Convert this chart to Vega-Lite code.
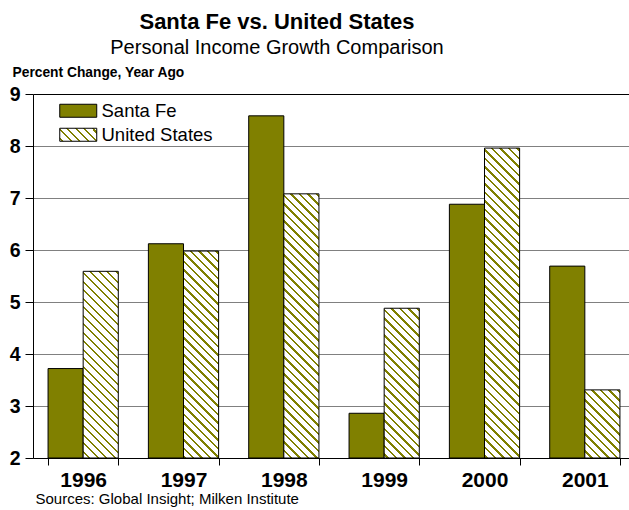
{
  "$schema": "https://vega.github.io/schema/vega-lite/v6.json",
  "width": 596,
  "height": 364,
  "autosize": {"type": "none"},
  "padding": {"left": 33, "top": 94, "right": 0, "bottom": 52},
  "background": "white",
  "params": [
    {"name": "hatch", "value": [
      {"offset": 0, "color": "#ffffff"},
      {"offset": 0.0081, "color": "#ffffff"}, {"offset": 0.0081, "color": "#808000"}, {"offset": 0.0142, "color": "#808000"}, {"offset": 0.0142, "color": "#ffffff"},
      {"offset": 0.0317, "color": "#ffffff"}, {"offset": 0.0317, "color": "#808000"}, {"offset": 0.0378, "color": "#808000"}, {"offset": 0.0378, "color": "#ffffff"},
      {"offset": 0.0553, "color": "#ffffff"}, {"offset": 0.0553, "color": "#808000"}, {"offset": 0.0614, "color": "#808000"}, {"offset": 0.0614, "color": "#ffffff"},
      {"offset": 0.0789, "color": "#ffffff"}, {"offset": 0.0789, "color": "#808000"}, {"offset": 0.0850, "color": "#808000"}, {"offset": 0.0850, "color": "#ffffff"},
      {"offset": 0.1025, "color": "#ffffff"}, {"offset": 0.1025, "color": "#808000"}, {"offset": 0.1086, "color": "#808000"}, {"offset": 0.1086, "color": "#ffffff"},
      {"offset": 0.1261, "color": "#ffffff"}, {"offset": 0.1261, "color": "#808000"}, {"offset": 0.1322, "color": "#808000"}, {"offset": 0.1322, "color": "#ffffff"},
      {"offset": 0.1497, "color": "#ffffff"}, {"offset": 0.1497, "color": "#808000"}, {"offset": 0.1558, "color": "#808000"}, {"offset": 0.1558, "color": "#ffffff"},
      {"offset": 0.1733, "color": "#ffffff"}, {"offset": 0.1733, "color": "#808000"}, {"offset": 0.1794, "color": "#808000"}, {"offset": 0.1794, "color": "#ffffff"},
      {"offset": 0.1969, "color": "#ffffff"}, {"offset": 0.1969, "color": "#808000"}, {"offset": 0.2030, "color": "#808000"}, {"offset": 0.2030, "color": "#ffffff"},
      {"offset": 0.2205, "color": "#ffffff"}, {"offset": 0.2205, "color": "#808000"}, {"offset": 0.2266, "color": "#808000"}, {"offset": 0.2266, "color": "#ffffff"},
      {"offset": 0.2442, "color": "#ffffff"}, {"offset": 0.2442, "color": "#808000"}, {"offset": 0.2503, "color": "#808000"}, {"offset": 0.2503, "color": "#ffffff"},
      {"offset": 0.2678, "color": "#ffffff"}, {"offset": 0.2678, "color": "#808000"}, {"offset": 0.2739, "color": "#808000"}, {"offset": 0.2739, "color": "#ffffff"},
      {"offset": 0.2914, "color": "#ffffff"}, {"offset": 0.2914, "color": "#808000"}, {"offset": 0.2975, "color": "#808000"}, {"offset": 0.2975, "color": "#ffffff"},
      {"offset": 0.3150, "color": "#ffffff"}, {"offset": 0.3150, "color": "#808000"}, {"offset": 0.3211, "color": "#808000"}, {"offset": 0.3211, "color": "#ffffff"},
      {"offset": 0.3386, "color": "#ffffff"}, {"offset": 0.3386, "color": "#808000"}, {"offset": 0.3447, "color": "#808000"}, {"offset": 0.3447, "color": "#ffffff"},
      {"offset": 0.3622, "color": "#ffffff"}, {"offset": 0.3622, "color": "#808000"}, {"offset": 0.3683, "color": "#808000"}, {"offset": 0.3683, "color": "#ffffff"},
      {"offset": 0.3858, "color": "#ffffff"}, {"offset": 0.3858, "color": "#808000"}, {"offset": 0.3919, "color": "#808000"}, {"offset": 0.3919, "color": "#ffffff"},
      {"offset": 0.4094, "color": "#ffffff"}, {"offset": 0.4094, "color": "#808000"}, {"offset": 0.4156, "color": "#808000"}, {"offset": 0.4156, "color": "#ffffff"},
      {"offset": 0.4331, "color": "#ffffff"}, {"offset": 0.4331, "color": "#808000"}, {"offset": 0.4392, "color": "#808000"}, {"offset": 0.4392, "color": "#ffffff"},
      {"offset": 0.4567, "color": "#ffffff"}, {"offset": 0.4567, "color": "#808000"}, {"offset": 0.4628, "color": "#808000"}, {"offset": 0.4628, "color": "#ffffff"},
      {"offset": 0.4803, "color": "#ffffff"}, {"offset": 0.4803, "color": "#808000"}, {"offset": 0.4864, "color": "#808000"}, {"offset": 0.4864, "color": "#ffffff"},
      {"offset": 0.5039, "color": "#ffffff"}, {"offset": 0.5039, "color": "#808000"}, {"offset": 0.5100, "color": "#808000"}, {"offset": 0.5100, "color": "#ffffff"},
      {"offset": 0.5275, "color": "#ffffff"}, {"offset": 0.5275, "color": "#808000"}, {"offset": 0.5336, "color": "#808000"}, {"offset": 0.5336, "color": "#ffffff"},
      {"offset": 0.5511, "color": "#ffffff"}, {"offset": 0.5511, "color": "#808000"}, {"offset": 0.5572, "color": "#808000"}, {"offset": 0.5572, "color": "#ffffff"},
      {"offset": 0.5747, "color": "#ffffff"}, {"offset": 0.5747, "color": "#808000"}, {"offset": 0.5808, "color": "#808000"}, {"offset": 0.5808, "color": "#ffffff"},
      {"offset": 0.5983, "color": "#ffffff"}, {"offset": 0.5983, "color": "#808000"}, {"offset": 0.6044, "color": "#808000"}, {"offset": 0.6044, "color": "#ffffff"},
      {"offset": 0.6219, "color": "#ffffff"}, {"offset": 0.6219, "color": "#808000"}, {"offset": 0.6281, "color": "#808000"}, {"offset": 0.6281, "color": "#ffffff"},
      {"offset": 0.6456, "color": "#ffffff"}, {"offset": 0.6456, "color": "#808000"}, {"offset": 0.6517, "color": "#808000"}, {"offset": 0.6517, "color": "#ffffff"},
      {"offset": 0.6692, "color": "#ffffff"}, {"offset": 0.6692, "color": "#808000"}, {"offset": 0.6753, "color": "#808000"}, {"offset": 0.6753, "color": "#ffffff"},
      {"offset": 0.6928, "color": "#ffffff"}, {"offset": 0.6928, "color": "#808000"}, {"offset": 0.6989, "color": "#808000"}, {"offset": 0.6989, "color": "#ffffff"},
      {"offset": 0.7164, "color": "#ffffff"}, {"offset": 0.7164, "color": "#808000"}, {"offset": 0.7225, "color": "#808000"}, {"offset": 0.7225, "color": "#ffffff"},
      {"offset": 0.7400, "color": "#ffffff"}, {"offset": 0.7400, "color": "#808000"}, {"offset": 0.7461, "color": "#808000"}, {"offset": 0.7461, "color": "#ffffff"},
      {"offset": 0.7636, "color": "#ffffff"}, {"offset": 0.7636, "color": "#808000"}, {"offset": 0.7697, "color": "#808000"}, {"offset": 0.7697, "color": "#ffffff"},
      {"offset": 0.7872, "color": "#ffffff"}, {"offset": 0.7872, "color": "#808000"}, {"offset": 0.7933, "color": "#808000"}, {"offset": 0.7933, "color": "#ffffff"},
      {"offset": 0.8108, "color": "#ffffff"}, {"offset": 0.8108, "color": "#808000"}, {"offset": 0.8169, "color": "#808000"}, {"offset": 0.8169, "color": "#ffffff"},
      {"offset": 0.8344, "color": "#ffffff"}, {"offset": 0.8344, "color": "#808000"}, {"offset": 0.8406, "color": "#808000"}, {"offset": 0.8406, "color": "#ffffff"},
      {"offset": 0.8581, "color": "#ffffff"}, {"offset": 0.8581, "color": "#808000"}, {"offset": 0.8642, "color": "#808000"}, {"offset": 0.8642, "color": "#ffffff"},
      {"offset": 0.8817, "color": "#ffffff"}, {"offset": 0.8817, "color": "#808000"}, {"offset": 0.8878, "color": "#808000"}, {"offset": 0.8878, "color": "#ffffff"},
      {"offset": 0.9053, "color": "#ffffff"}, {"offset": 0.9053, "color": "#808000"}, {"offset": 0.9114, "color": "#808000"}, {"offset": 0.9114, "color": "#ffffff"},
      {"offset": 0.9289, "color": "#ffffff"}, {"offset": 0.9289, "color": "#808000"}, {"offset": 0.9350, "color": "#808000"}, {"offset": 0.9350, "color": "#ffffff"},
      {"offset": 0.9525, "color": "#ffffff"}, {"offset": 0.9525, "color": "#808000"}, {"offset": 0.9586, "color": "#808000"}, {"offset": 0.9586, "color": "#ffffff"},
      {"offset": 0.9761, "color": "#ffffff"}, {"offset": 0.9761, "color": "#808000"}, {"offset": 0.9822, "color": "#808000"}, {"offset": 0.9822, "color": "#ffffff"},
      {"offset": 1, "color": "#ffffff"}
    ]}
  ],
  "title": {
    "text": "Santa Fe vs. United States",
    "subtitle": "Personal Income Growth Comparison",
    "anchor": "middle",
    "dx": -54,
    "font": "Liberation Sans",
    "fontSize": 22,
    "fontWeight": "bold",
    "color": "black",
    "subtitleFont": "Liberation Sans",
    "subtitleFontSize": 20,
    "subtitleColor": "black",
    "subtitlePadding": 3.5,
    "offset": 6.5
  },
  "data": {"values": [
    {"year": "1996", "series": "Santa Fe", "pct": 3.72},
    {"year": "1996", "series": "United States", "pct": 5.59},
    {"year": "1997", "series": "Santa Fe", "pct": 6.12},
    {"year": "1997", "series": "United States", "pct": 5.98},
    {"year": "1998", "series": "Santa Fe", "pct": 8.58},
    {"year": "1998", "series": "United States", "pct": 7.08},
    {"year": "1999", "series": "Santa Fe", "pct": 2.86},
    {"year": "1999", "series": "United States", "pct": 4.88},
    {"year": "2000", "series": "Santa Fe", "pct": 6.88},
    {"year": "2000", "series": "United States", "pct": 7.96},
    {"year": "2001", "series": "Santa Fe", "pct": 5.69},
    {"year": "2001", "series": "United States", "pct": 3.31}
  ]},
  "mark": {"type": "bar", "stroke": "black", "strokeWidth": 1},
  "encoding": {
    "x": {
      "field": "year", "type": "nominal",
      "scale": {"paddingInner": 0.3, "paddingOuter": 0.15, "range": [0, 602]},
      "axis": {
        "title": "Sources: Global Insight; Milken Institute",
        "titleFont": "Liberation Sans", "titleFontSize": 15, "titleFontWeight": "normal", "titleColor": "black",
        "titleX": 2, "titleY": 45, "titleAlign": "left", "titleBaseline": "alphabetic", "titleAnchor": "start",
        "labelAngle": 0, "labelFont": "Liberation Sans", "labelFontSize": 21, "labelFontWeight": "bold", "labelColor": "black",
        "labelPadding": 4, "tickSize": 7, "tickColor": "black", "tickBand": "extent", "domainColor": "black", "grid": false
      }
    },
    "xOffset": {"field": "series", "type": "nominal", "sort": ["Santa Fe", "United States"]},
    "y": {
      "field": "pct", "type": "quantitative",
      "scale": {"domain": [2, 9], "zero": false, "nice": false},
      "axis": {
        "values": [2, 3, 4, 5, 6, 7, 8, 9],
        "title": "Percent Change, Year Ago",
        "titleFont": "Liberation Sans", "titleFontSize": 13.8, "titleFontWeight": "bold", "titleColor": "black",
        "titleAngle": 0, "titleX": -21, "titleY": -18, "titleAlign": "left", "titleBaseline": "alphabetic", "titleAnchor": "start",
        "labelFont": "Liberation Sans", "labelFontSize": 19.5, "labelFontWeight": "bold", "labelColor": "black",
        "labelPadding": 5, "tickSize": 8, "tickColor": "black", "domainColor": "black",
        "grid": true,
        "gridColor": {"condition": {"test": "datum.value === 9", "value": "black"}, "value": "#808080"}
      }
    },
    "y2": {"datum": 2},
    "fill": {
      "field": "series", "type": "nominal",
      "scale": {"domain": ["Santa Fe", "United States"], "range": ["#808000", {"expr": "{gradient: 'linear', x1: 0, y1: 24.615, x2: 8.661, y2: 21.573, stops: hatch}"}]},
      "condition": {
        "test": "datum.series === 'United States'",
        "value": {"expr": "{gradient: 'linear', x1: 0, y1: 320/(scale('y',2)-scale('y',datum.pct)), x2: 360*bandwidth('xOffset')/(pow(bandwidth('xOffset'),2)+pow(scale('y',2)-scale('y',datum.pct),2)), y2: 320/(scale('y',2)-scale('y',datum.pct)) - 360*(scale('y',2)-scale('y',datum.pct))/(pow(bandwidth('xOffset'),2)+pow(scale('y',2)-scale('y',datum.pct),2)), stops: hatch}"}
      },
      "legend": {
        "title": null,
        "orient": "none", "legendX": 36, "legendY": 7.5,
        "symbolType": "M-2.846,-1L2.846,-1L2.846,1L-2.846,1Z",
        "symbolSize": 169,
        "symbolStrokeColor": "black", "symbolStrokeWidth": 1,
        "labelFont": "Liberation Sans", "labelFontSize": 18.5, "labelColor": "black",
        "labelOffset": 14, "rowPadding": 5, "padding": 0,
        "encode": {"symbols": {"update": {"stroke": {"value": "black"}, "strokeWidth": {"value": 1}, "opacity": {"value": 1}}}}
      }
    }
  },
  "config": {
    "view": {"stroke": null},
    "font": "Liberation Sans"
  }
}
